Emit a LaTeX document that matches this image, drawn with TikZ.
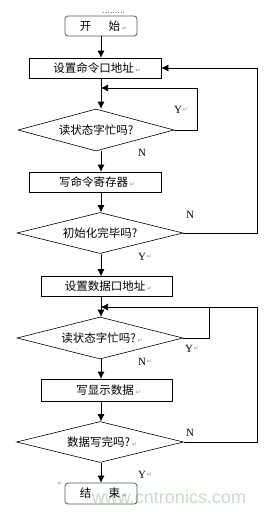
\documentclass[tikz,border=0pt]{standalone}
\usepackage{fontspec}
\setmainfont{Liberation Serif}
\newfontfamily\cjk{Noto Sans CJK SC}
\newfontfamily\sym{DejaVu Sans}
\newfontfamily\wm{Liberation Sans}
\usetikzlibrary{shapes.geometric,arrows.meta}
\newcommand{\rmk}{\,{\sym\fontsize{6}{6}\selectfont\textcolor{black!45}{↵}}}
\begin{document}
\begin{tikzpicture}[x=1pt,y=-1pt,
  proc/.style={draw=black,line width=0.6pt,minimum height=20pt,inner sep=0pt,font=\cjk\fontsize{11.5}{12}\selectfont},
  term/.style={draw=black!65,line width=0.8pt,rounded corners=3pt,minimum width=72pt,minimum height=20pt,inner sep=0pt,font=\cjk\fontsize{11.5}{12}\selectfont},
  dec/.style={draw=black,line width=0.6pt,diamond,aspect=4,inner sep=0pt,font=\cjk\fontsize{11.5}{12}\selectfont},
  lab/.style={font=\fontsize{11}{12}\selectfont,inner sep=0pt},
  ret/.style={font=\sym\fontsize{6}{6}\selectfont,text=black!45},
  arr/.style={line width=0.6pt,-{Latex[length=7pt,width=7pt]}},
  ln/.style={line width=0.6pt}]
\useasboundingbox (0,0) rectangle (265,512);
\fill[white] (0,0) rectangle (265,512);
% watermark
\node[font=\wm\fontsize{18}{18}\selectfont,text=green!40!black!22!white,inner sep=0pt] (wmk) at (169,497) {www.cntronics.com};
% dots
\coordinate (dl) at (103,12); \coordinate (dr) at (125,12);
\draw[black!50,dotted,line width=0.5pt] (dl) -- (dr);
% nodes
\node[term] (start) at (101,26) {\hspace{5pt}开\hspace{1.5em}始\rmk};
\node[proc,minimum width=132pt] (b1) at (95,68) {\hspace{4pt}设置命令口地址\rmk};
\node[dec,minimum width=156pt,minimum height=42pt] (d1) at (96,130) {读状态字忙吗?};
\node[proc,minimum width=132pt] (b2) at (95,182) {\hspace{4pt}写命令寄存器\rmk};
\node[dec,minimum width=166pt,minimum height=41pt] (d2) at (100,233) {初始化完毕吗?};
\node[proc,minimum width=131pt] (b3) at (106.5,286.5) {\hspace{4pt}设置数据口地址\rmk};
\node[dec,minimum width=166pt,minimum height=42pt] (d3) at (100,338) {\hspace{4pt}读状态字忙吗?\rmk};
\node[proc,minimum width=131pt,minimum height=22pt] (b4) at (106.5,390) {\hspace{4pt}写显示数据\rmk};
\node[dec,minimum width=167pt,minimum height=41pt] (d4) at (100,442) {\hspace{4pt}数据写完吗?\rmk};
\node[term,minimum height=21pt] (end) at (101,493.5) {\hspace{5pt}结\hspace{1.5em}束\rmk};
\node[ret] (r0) at (60,484) {↵};
% main arrows
\coordinate (m1) at (101,88);
\coordinate (m3) at (101,307);
\draw[arr] (start.south) -- (start.south |- b1.north);
\draw[ln] (start.south |- b1.south) -- (m1);
\draw[arr] (m1) -- (start.south |- d1.north);
\draw[arr] (start.south |- d1.south) -- (start.south |- b2.north);
\draw[arr] (start.south |- b2.south) -- (start.south |- d2.north);
\draw[arr] (start.south |- d2.south) -- (start.south |- b3.north);
\draw[ln] (start.south |- b3.south) -- (m3);
\draw[arr] (m3) -- (start.south |- d3.north);
\draw[arr] (start.south |- d3.south) -- (start.south |- b4.north);
\draw[arr] (start.south |- b4.south) -- (start.south |- d4.north);
\draw[arr] (start.south |- d4.south) -- (end.north);
% loops
\coordinate (l1a) at (197,130); \coordinate (l1b) at (197,88);
\draw[ln] (d1.east) -- (l1a) -- (l1b);
\draw[arr] (l1b) -- (m1);
\coordinate (l2a) at (257,233); \coordinate (l2b) at (257,68);
\draw[arr] (d2.east) -- (l2a) -- (l2b) -- (b1.east);
\coordinate (l3a) at (209,338); \coordinate (l3b) at (209,307);
\coordinate (l4a) at (257,442); \coordinate (l4b) at (257,307);
\draw[ln] (d3.east) -- (l3a) -- (l3b);
\draw[ln] (d4.east) -- (l4a) -- (l4b) -- (l3b);
\draw[arr] (l3b) -- (m3);
% labels
\node[lab] (y1) at (178,110) {Y};
\node[lab] (n1) at (142,153) {N};
\node[lab] (n2) at (190,215) {N};
\node[lab] (y2) at (142,257) {Y};
\node[lab] (y3) at (189,349) {Y};
\node[lab] (n3) at (142,362) {N};
\node[lab] (n4) at (190,433) {N};
\node[lab] (y4) at (142,475) {Y};
\foreach \p in {y2,y3,n3,y4,y1}{\node[ret,anchor=west,inner sep=0.5pt] at (\p.east) {↵};}
\end{tikzpicture}
\end{document}
